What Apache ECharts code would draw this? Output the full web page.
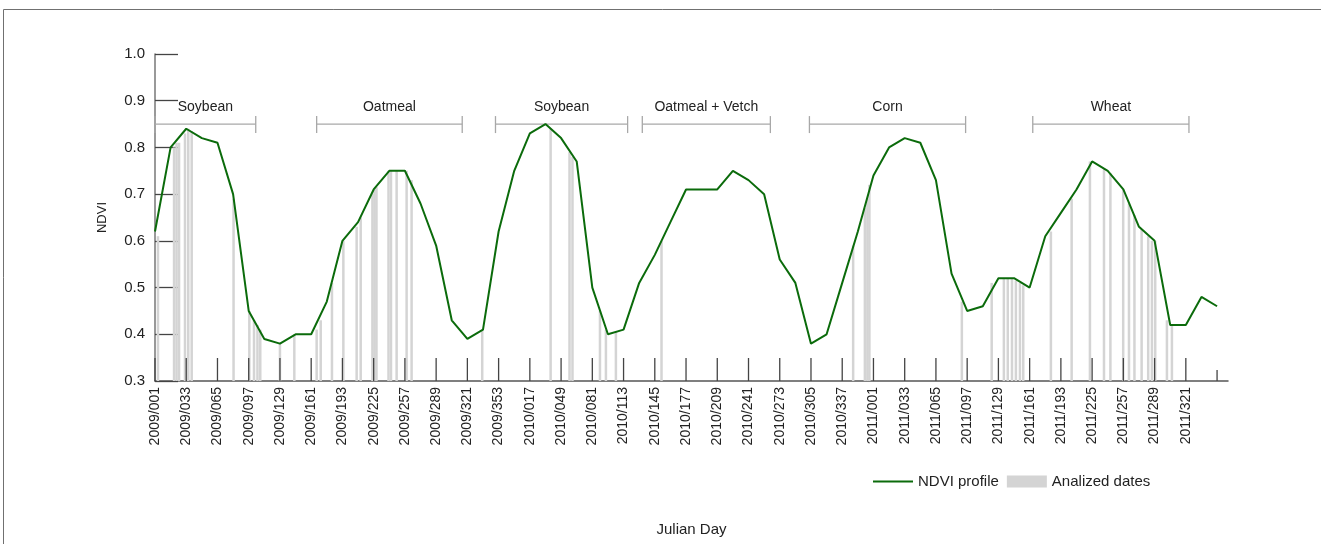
<!DOCTYPE html>
<html>
<head>
<meta charset="utf-8">
<script src="https://cdn.jsdelivr.net/npm/echarts@6/dist/echarts.min.js"></script>
<style>
  html, body { margin: 0; padding: 0; background: #fff; }
  #chart { width: 1321px; height: 544px; }
</style>
</head>
<body>
<div id="chart"></div>
<script>
// 16-day composite periods, 2009/001 .. 2011/353 (index 0..68)
const ndvi = [
  0.62, 0.80, 0.84, 0.82, 0.81, 0.70, 0.45, 0.39, 0.38, 0.40,
  0.40, 0.47, 0.60, 0.64, 0.71, 0.75, 0.75, 0.68, 0.59, 0.43,
  0.39, 0.41, 0.62, 0.75, 0.83, 0.85, 0.82, 0.77, 0.50, 0.40,
  0.41, 0.51, 0.57, 0.64, 0.71, 0.71, 0.71, 0.75, 0.73, 0.70,
  0.56, 0.51, 0.38, 0.40, 0.51, 0.62, 0.74, 0.80, 0.82, 0.81,
  0.73, 0.53, 0.45, 0.46, 0.52, 0.52, 0.50, 0.61, 0.66, 0.71,
  0.77, 0.75, 0.71, 0.63, 0.60, 0.42, 0.42, 0.48, 0.46
];

// labelled ticks every second period
const tickLabels = [
  '2009/001', '2009/033', '2009/065', '2009/097', '2009/129', '2009/161',
  '2009/193', '2009/225', '2009/257', '2009/289', '2009/321', '2009/353',
  '2010/017', '2010/049', '2010/081', '2010/113', '2010/145', '2010/177',
  '2010/209', '2010/241', '2010/273', '2010/305', '2010/337',
  '2011/001', '2011/033', '2011/065', '2011/097', '2011/129', '2011/161',
  '2011/193', '2011/225', '2011/257', '2011/289', '2011/321'
];
const lastPeriodTick = 68;

// analyzed dates: [period position, NDVI at that date]
const analyzedDates = [
  [0.19, 0.61], [1.22, 0.80], [1.38, 0.81], [1.54, 0.81], [1.92, 0.83],
  [2.13, 0.84], [2.35, 0.835], [5.03, 0.69], [6.04, 0.45], [6.34, 0.43],
  [6.56, 0.42], [6.74, 0.41], [8.00, 0.38], [8.92, 0.40], [10.35, 0.41],
  [10.61, 0.43], [11.33, 0.51], [12.06, 0.60], [12.91, 0.63], [13.17, 0.65],
  [13.92, 0.70], [14.05, 0.71], [14.18, 0.715], [14.95, 0.75], [15.11, 0.75],
  [15.47, 0.75], [16.11, 0.75], [16.43, 0.73], [20.95, 0.41], [25.33, 0.84],
  [26.54, 0.79], [26.73, 0.78], [28.49, 0.45], [28.87, 0.41], [29.51, 0.405],
  [32.43, 0.60], [44.70, 0.59], [45.45, 0.67], [45.61, 0.69], [45.74, 0.72],
  [51.66, 0.47], [53.57, 0.51], [54.35, 0.52], [54.60, 0.52], [54.87, 0.52],
  [55.12, 0.515], [55.38, 0.51], [55.59, 0.505], [57.36, 0.62], [58.69, 0.69],
  [59.86, 0.77], [60.76, 0.755], [61.17, 0.745], [61.99, 0.71], [62.36, 0.68],
  [62.71, 0.655], [63.17, 0.625], [63.59, 0.61], [63.83, 0.60], [64.04, 0.60],
  [64.79, 0.43], [65.11, 0.42]
];

// crop seasons: [start period, end period, crop]
const seasons = [
  [0.00, 6.45, 'Soybean'],
  [10.35, 19.67, 'Oatmeal'],
  [21.80, 30.26, 'Soybean'],
  [31.20, 39.40, 'Oatmeal + Vetch'],
  [41.90, 51.90, 'Corn'],
  [56.20, 66.20, 'Wheat']
];
const seasonLevel = 0.85;

const yTicks = [0.3, 0.4, 0.5, 0.6, 0.7, 0.8, 0.9, 1.0];

const FONT = '"Liberation Sans", Arial, sans-serif';
const GREEN = '#0b6b0b';
const labelByIndex = {};
tickLabels.forEach((t, i) => { labelByIndex[i * 2] = t; });
const tickData = tickLabels.map((t, i) => [i * 2, 0]).concat([[lastPeriodTick, 1]]);

const chart = echarts.init(document.getElementById('chart'), null, { renderer: 'canvas' });

chart.setOption({
  backgroundColor: '#fff',
  animation: false,
  graphic: [{
    type: 'rect',
    shape: { x: 3.5, y: 9.5, width: 1340, height: 600 },
    style: { fill: 'none', stroke: '#707070', lineWidth: 1 },
    silent: true
  }],
  grid: { left: 155, right: 93, top: 54, bottom: 163 },
  legend: {
    left: 868, top: 469,
    itemWidth: 40, itemHeight: 12, itemGap: 8,
    textStyle: { fontFamily: FONT, fontSize: 15, color: '#222' },
    data: [
      { name: 'NDVI profile', icon: 'path://M0,0 L40,0 L40,2 L0,2 Z', itemStyle: { color: GREEN } },
      { name: 'Analized dates', icon: 'rect', itemStyle: { color: '#d4d4d4' } }
    ]
  },
  xAxis: {
    type: 'value',
    min: 0, max: 68.7, interval: 2,
    name: 'Julian Day', nameLocation: 'middle', nameGap: 141,
    nameTextStyle: { fontFamily: FONT, fontSize: 15, color: '#222' },
    axisLine: { lineStyle: { color: '#555', width: 1.5 } },
    axisTick: { show: false },
    splitLine: { show: false },
    axisLabel: {
      rotate: 90, margin: 6,
      fontFamily: FONT, fontSize: 14, color: '#222',
      showMaxLabel: false,
      formatter: v => labelByIndex[v] || ''
    }
  },
  yAxis: {
    type: 'value',
    min: 0.3, max: 1.0, interval: 0.1,
    name: 'NDVI', nameLocation: 'middle', nameGap: 46, nameRotate: 90,
    nameTextStyle: { fontFamily: FONT, fontSize: 13, color: '#222' },
    axisLine: { show: true, lineStyle: { color: '#777', width: 1.5 } },
    axisTick: { show: true, inside: true, length: 23, lineStyle: { color: '#444', width: 1.3 } },
    splitLine: { show: false },
    axisLabel: {
      margin: 10, fontFamily: FONT, fontSize: 15, color: '#222',
      formatter: v => v.toFixed(1)
    }
  },
  series: [
    {
      name: 'Analized dates',
      type: 'custom',
      z: 1,
      itemStyle: { color: '#d4d4d4' },
      data: analyzedDates,
      renderItem: (params, api) => {
        const top = api.coord([api.value(0), api.value(1)]);
        const base = api.coord([api.value(0), yTicks[0]]);
        return {
          type: 'rect',
          shape: { x: top[0] - 1.25, y: top[1], width: 2.5, height: base[1] - top[1] },
          style: { fill: '#d4d4d4' }
        };
      }
    },
    {
      name: 'period ticks',
      type: 'custom',
      z: 3,
      silent: true,
      data: tickData,
      renderItem: (params, api) => {
        const p = api.coord([api.value(0), yTicks[0]]);
        const len = api.value(1) ? 11 : 23;
        return {
          type: 'line',
          shape: { x1: p[0], y1: p[1], x2: p[0], y2: p[1] - len },
          style: { stroke: '#444', lineWidth: 1.3 }
        };
      }
    },
    {
      name: 'seasons',
      type: 'custom',
      z: 3,
      silent: true,
      data: seasons.map(s => [s[0], s[1], seasonLevel, s[2]]),
      renderItem: (params, api) => {
        const a = api.coord([api.value(0), api.value(2)]);
        const b = api.coord([api.value(1), api.value(2)]);
        const stroke = { stroke: '#a8a8a8', lineWidth: 1.3 };
        return {
          type: 'group',
          children: [
            { type: 'line', shape: { x1: a[0], y1: a[1], x2: b[0], y2: b[1] }, style: stroke },
            { type: 'line', shape: { x1: a[0], y1: a[1] - 8, x2: a[0], y2: a[1] + 9 }, style: stroke },
            { type: 'line', shape: { x1: b[0], y1: b[1] - 8, x2: b[0], y2: b[1] + 9 }, style: stroke },
            {
              type: 'text',
              style: {
                x: (a[0] + b[0]) / 2, y: a[1] - 10,
                text: api.value(3),
                align: 'center', verticalAlign: 'bottom',
                font: '14px ' + FONT, fill: '#222'
              }
            }
          ]
        };
      }
    },
    {
      name: 'NDVI profile',
      type: 'line',
      z: 4,
      symbol: 'none',
      data: ndvi.map((v, i) => [i, v]),
      lineStyle: { color: GREEN, width: 2 },
      itemStyle: { color: GREEN }
    }
  ]
});
</script>
</body>
</html>
